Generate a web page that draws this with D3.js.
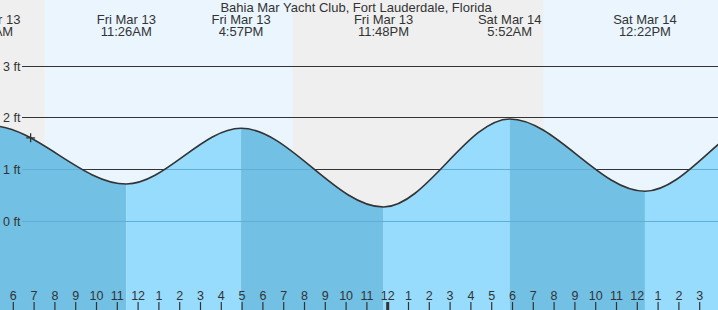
<!DOCTYPE html>
<html><head><meta charset="utf-8">
<script src="https://cdn.jsdelivr.net/npm/d3@7"></script>
<style>
html,body{margin:0;padding:0;background:#fff;}
svg{display:block;font-family:"Liberation Sans",Arial,sans-serif;}
</style></head>
<body><div id="chart"></div>
<script>
// ---- data ----
const title = "Bahia Mar Yacht Club, Fort Lauderdale, Florida";
const eventTimes = ["2020-03-12T22:40","2020-03-13T04:55","2020-03-13T11:26","2020-03-13T16:57","2020-03-13T23:48","2020-03-14T05:52","2020-03-14T12:22","2020-03-14T18:25","2020-03-15T00:40"];
const eventHeights = [0.30, 1.85, 0.72, 1.80, 0.275, 1.98, 0.58, 2.04, 0.25];
const eventDates = ["Thu Mar 12","Fri Mar 13","Fri Mar 13","Fri Mar 13","Fri Mar 13","Sat Mar 14","Sat Mar 14","Sat Mar 14","Sun Mar 15"];
const eventLabels = ["10:40PM","4:55AM","11:26AM","4:57PM","11:48PM","5:52AM","12:22PM","6:25PM","12:40AM"];
const nightStarts = ["2020-03-13T00:00","2020-03-13T19:26"];
const nightEnds = ["2020-03-13T07:30","2020-03-14T07:29"];
const yTicks = [0,1,2,3];
const yTickLabels = ["0 ft","1 ft","2 ft","3 ft"];
const hourTicks = ["2020-03-13T06:00","2020-03-13T07:00","2020-03-13T08:00","2020-03-13T09:00","2020-03-13T10:00","2020-03-13T11:00","2020-03-13T12:00","2020-03-13T13:00","2020-03-13T14:00","2020-03-13T15:00","2020-03-13T16:00","2020-03-13T17:00","2020-03-13T18:00","2020-03-13T19:00","2020-03-13T20:00","2020-03-13T21:00","2020-03-13T22:00","2020-03-13T23:00","2020-03-14T00:00","2020-03-14T01:00","2020-03-14T02:00","2020-03-14T03:00","2020-03-14T04:00","2020-03-14T05:00","2020-03-14T06:00","2020-03-14T07:00","2020-03-14T08:00","2020-03-14T09:00","2020-03-14T10:00","2020-03-14T11:00","2020-03-14T12:00","2020-03-14T13:00","2020-03-14T14:00","2020-03-14T15:00"];
const hourLabels = ["6","7","8","9","10","11","12","1","2","3","4","5","6","7","8","9","10","11","12","1","2","3","4","5","6","7","8","9","10","11","12","1","2","3"];
const nowTime = "2020-03-13T06:50";

// ---- setup ----
const W = 718, H = 310;
const parse = d3.timeParse("%Y-%m-%dT%H:%M");
const x = d3.scaleTime().domain([parse("2020-03-13T06:00"), parse("2020-03-14T12:00")]).range([13.3, 637.3]);
const y = d3.scaleLinear().domain([0, 3]).range([221.2, 66.3]);

const svg = d3.select("#chart").append("svg").attr("width", W).attr("height", H);
const defs = svg.append("defs");

// day background
svg.append("rect").attr("x",0).attr("y",0).attr("width",W).attr("height",H).attr("fill","#eaf5fe");
nightStarts.forEach((s,i)=>{
  const x0 = Math.max(0, x(parse(s))), x1 = x(parse(nightEnds[i]));
  svg.append("rect").attr("x",x0).attr("y",0).attr("width",x1-x0).attr("height",H).attr("fill","#efefef");
});

// grid lines (air)
const gridG = svg.append("g");
yTicks.forEach(v=>{
  gridG.append("line").attr("x1",22).attr("x2",W).attr("y1",y(v)).attr("y2",y(v))
    .attr("stroke","#333").attr("stroke-width",1).attr("shape-rendering","crispEdges");
});

// tide curve
const pts = eventTimes.map((t,i)=>({t:parse(t), v:eventHeights[i]}));
const area = d3.area().x(d=>x(d.t)).y0(H).y1(d=>y(d.v)).curve(d3.curveMonotoneX);
const line = d3.line().x(d=>x(d.t)).y(d=>y(d.v)).curve(d3.curveMonotoneX);

defs.append("clipPath").attr("id","water").append("path").attr("d", area(pts));
const wg = svg.append("g").attr("clip-path","url(#water)");
for (let i=0;i<pts.length-1;i++){
  const x0 = x(pts[i].t), x1 = x(pts[i+1].t);
  const falling = pts[i+1].v < pts[i].v;
  wg.append("rect").attr("x",x0).attr("y",0).attr("width",x1-x0).attr("height",H)
    .attr("fill", falling ? "#72c0e4" : "#97dbfd");
}
yTicks.forEach(v=>{
  wg.append("line").attr("x1",22).attr("x2",W).attr("y1",y(v)).attr("y2",y(v))
    .attr("stroke","#5eaed8").attr("stroke-width",1).attr("shape-rendering","crispEdges");
});

svg.append("path").attr("d", line(pts)).attr("fill","none").attr("stroke","#333").attr("stroke-width",1.6);

// y labels
yTicks.forEach((v,i)=>{
  svg.append("text").attr("x",3).attr("y",y(v)+4.5).attr("font-size",12.5).attr("fill","#333").text(yTickLabels[i]);
});

// now marker
const nt = parse(nowTime);
(function(){
  const p = svg.append("path").attr("d", line(pts)).attr("fill","none").attr("stroke","none");
  const node = p.node(), L = node.getTotalLength();
  const tx = x(nt);
  let lo=0, hi=L;
  for(let k=0;k<40;k++){ const m=(lo+hi)/2; if(node.getPointAtLength(m).x<tx) lo=m; else hi=m; }
  const py = node.getPointAtLength(lo).y;
  p.remove();
  svg.append("path").attr("d",`M${tx-4.5},${py}H${tx+4.5}M${tx},${py-4.5}V${py+4.5}`)
    .attr("stroke","#333").attr("stroke-width",1.3).attr("fill","none");
})();

// title
svg.append("text").attr("x",356).attr("y",12).attr("text-anchor","middle").attr("font-size",13).attr("fill","#333").text(title);

// event labels (only those whose centre lies near the view)
pts.forEach((d,i)=>{
  const cx = x(d.t);
  if (cx < -40 || cx > W + 10) return;
  const t = svg.append("text").attr("text-anchor","middle").attr("font-size",13).attr("fill","#333");
  t.append("tspan").attr("x",cx).attr("y",24).text(eventDates[i]);
  t.append("tspan").attr("x",cx).attr("y",36).text(eventLabels[i]);
});

// bottom hour axis
hourTicks.forEach((s,i)=>{
  const tt = parse(s), tx = x(tt);
  const mid = tt.getHours()===0;
  svg.append("line").attr("x1",tx).attr("x2",tx).attr("y1",302).attr("y2",H)
    .attr("stroke","#333").attr("stroke-width", mid?3:1.2);
  svg.append("text").attr("x",tx).attr("y",300).attr("text-anchor","middle").attr("font-size",12.5).attr("fill","#333").text(hourLabels[i]);
});
</script></body></html>
